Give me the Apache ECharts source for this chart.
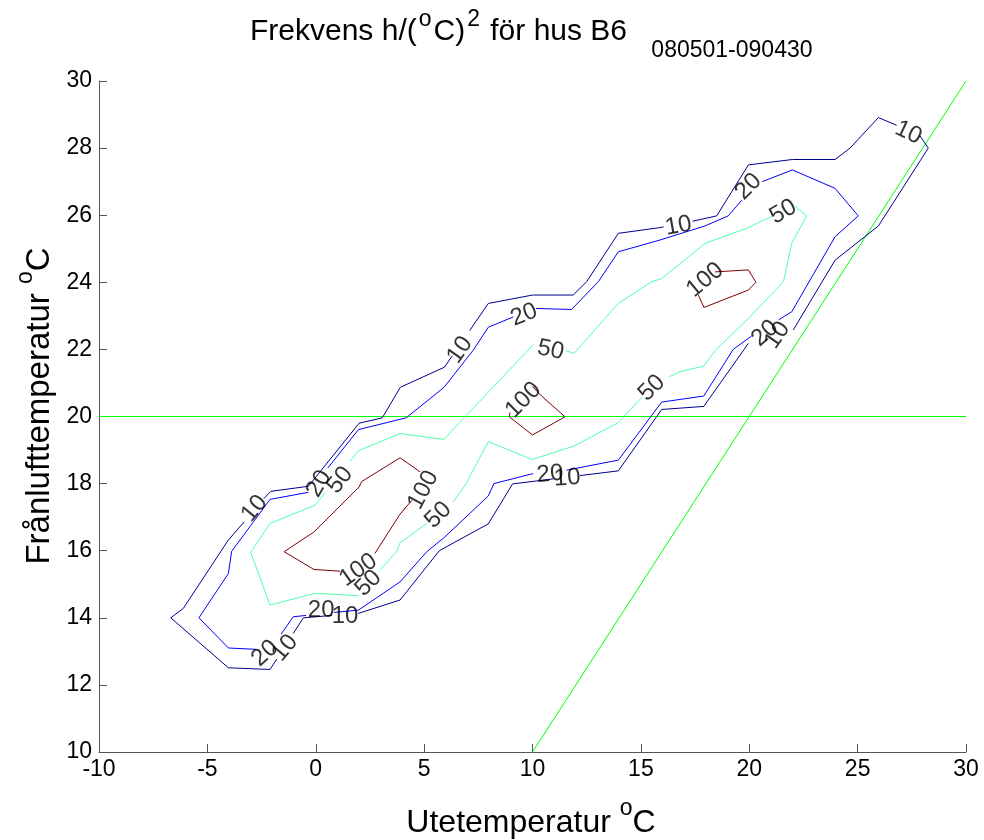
<!DOCTYPE html>
<html><head><meta charset="utf-8">
<script src="https://cdn.jsdelivr.net/npm/echarts@6/dist/echarts.min.js"></script>
<style>html,body{margin:0;padding:0;background:#fff}#c{width:984px;height:840px}</style>
</head><body><div id="c"></div>
<script>
// ---- data ----
const xTickLabels = [-10, -5, 0, 5, 10, 15, 20, 25, 30];
const yTickLabels = [10, 12, 14, 16, 18, 20, 22, 24, 26, 28, 30];
const levels = [10, 20, 50, 100];

// contour polylines (null = break where a level label sits)
const contour10 = [
  [-2.4,17.55],[-2.07,17.77],[-0.34,17.92],[2.0,19.8],[3.07,19.96],[3.9,20.87],[5.94,21.47],[6.3,21.81], null,
  [7.1,22.56],[7.96,23.37],[10.0,23.62],[11.88,23.62],[12.5,24.02],[13.96,25.46],[15.88,25.63],[16.05,25.65], null,
  [17.38,25.82],[18.5,25.98],[19.96,27.5],[21.99,27.66],[23.96,27.66],[24.65,28.0],[25.96,28.91],[26.8,28.68], null,
  [27.88,28.36],[28.26,28.0],[25.96,25.68],[23.96,24.66],[22.03,22.58], null,
  [19.96,22.18],[17.9,20.3],[15.96,20.21],[13.96,18.38],[12.2,18.24], null,
  [10.95,18.14],[9.08,17.99],[7.96,16.8],[5.7,16.0],[3.89,14.53],[1.96,14.13], null,
  [0.75,14.07],[-0.57,14.0],[-1.04,13.53], null,
  [-1.8,12.77],[-2.11,12.46],[-4.03,12.51],[-6.69,14.0],[-6.11,14.28],[-4.03,16.32],[-3.3,16.86]
];
const contour20 = [
  [0.55,18.46],[1.97,19.61],[4.17,19.96],[5.92,20.87],[7.27,21.98],[7.96,22.66],[9.12,22.97], null,
  [10.16,23.22],[11.8,23.19],[13.04,24.02],[13.96,24.91],[15.88,25.26],[17.96,25.68],[19.03,25.98],[19.66,26.45], null,
  [20.6,27.0],[21.99,27.35],[23.96,26.8],[25.03,25.98],[23.96,25.36],[21.96,23.12],[21.35,22.88], null,
  [20.1,22.39],[19.96,22.33],[19.26,22.0],[17.9,20.61],[15.96,20.43],[13.96,18.7],[11.57,18.4], null,
  [10.03,18.3],[8.22,18.0],[7.96,17.63],[5.92,16.39],[5.12,15.97],[3.89,15.07],[1.97,14.23],[0.85,14.16], null,
  [-0.45,14.07],[-1.04,14.03],[-1.6,13.51], null,
  [-2.75,13.06],[-4.03,13.1],[-5.39,14.0],[-4.03,15.32],[-3.88,15.98],[-2.11,17.53],[-0.34,17.74]
];
const contour50 = [
  [2.96,15.42],[3.73,15.97],[3.89,16.24],[5.12,16.81], null,
  [6.35,17.46],[6.93,17.99],[7.96,19.25],[9.99,18.72],[11.92,19.12],[13.96,19.82],[15.04,20.57], null,
  [16.3,21.18],[16.81,21.34],[17.9,21.5],[18.45,21.98],[19.96,22.92],[21.58,24.02],[21.96,25.16],[22.65,25.98],[22.11,26.27], null,
  [21.03,25.96],[19.88,25.61],[17.96,25.16],[15.96,24.11],[15.5,24.02],[13.96,23.37],[11.91,21.88],[11.55,21.96], null,
  [10.05,22.15],[9.99,22.16],[6.81,19.94],[5.92,19.32],[3.89,19.49],[1.97,18.98],[1.6,18.68], null,
  [0.45,17.74],[-0.03,17.36],[-2.11,16.81],[-3.0,15.95],[-2.11,14.38],[-0.03,14.73],[1.96,14.66]
];
const contour100 = [
  [2.73,15.92],[3.89,17.09],[4.43,17.5], null,
  [4.81,18.35],[3.89,18.77],[2.12,18.06],[2.0,17.9],[-0.08,16.56],[-1.46,15.97],[-0.08,15.44],[1.12,15.39], null,
  [10.0,20.89],[10.42,20.61],[11.5,19.99],[10.0,19.45],[8.93,19.99],[8.96,20.12], null,
  [18.42,24.31],[19.96,24.37],[20.31,24.0],[19.96,23.77],[17.91,23.25],[17.65,23.62]
];

// contour label anchors and text angles
const labelPos10 = [[-2.83,17.26],[6.65,21.98],[16.73,25.68],[27.34,28.46],[21.3,22.42],[11.6,18.16],[1.35,14.05],[-1.42,13.1]];
const labelRot10 = [50, 55, 10, -25, 55, 4, 0, 50];
const labelPos20 = [[-2.34,12.94],[0.25,14.23],[0.15,18.0],[9.61,23.03],[19.96,26.85],[20.73,22.48],[10.81,18.28]];
const labelRot20 = [42, 0, 60, 22, 45, 42, 5];
const labelPos50 = [[1.12,18.1],[5.65,17.06],[2.43,15.03],[10.84,21.98],[21.57,26.1],[15.5,20.85]];
const labelRot50 = [52, 45, 45, -12, 30, 45];
const labelPos100 = [[4.96,17.81],[1.96,15.42],[9.58,20.49],[17.96,24.07]];
const labelRot100 = [62, 35, 45, 40];

// reference lines
const refHorizontal = [[-10, 20], [30, 20]];
const refDiagonal = [[10, 10], [30, 30]];

// ---- chart ----
const FONT = '"Liberation Sans", Arial, Helvetica, sans-serif';
const contours = [contour10, contour20, contour50, contour100];
const labelPos = [labelPos10, labelPos20, labelPos50, labelPos100];
const labelRot = [labelRot10, labelRot20, labelRot50, labelRot100];
const colors = ['#00008f', '#0000ff', '#50ffaf', '#800000'];

const series = [];
series.push({type:'line', data: refHorizontal, symbol:'none', lineStyle:{width:1, color:'#00ff00'}, silent:true, z:2});
series.push({type:'line', data: refDiagonal, symbol:'none', lineStyle:{width:1, color:'#00ff00'}, silent:true, z:2});
levels.forEach((lv, i) => {
  series.push({
    type:'line', name:String(lv), symbol:'none', connectNulls:false, silent:true, z:3,
    data: contours[i].map(p => p ? p : ['-', '-']),
    lineStyle:{width:1, color:colors[i]}
  });
});
levels.forEach((lv, i) => {
  series.push({
    type:'scatter', symbolSize:0, silent:true, z:5,
    data: labelPos[i].map((p, k) => ({value:p, label:{rotate: labelRot[i][k]}})),
    label:{show:true, position:'inside', formatter:String(lv), color:'#000', fontSize:24, fontFamily:FONT}
  });
});

const chart = echarts.init(document.getElementById('c'), null, {renderer:'canvas'});
chart.setOption({
  animation:false,
  backgroundColor:'#fff',
  grid:{left:99, right:18, top:81, bottom:88, containLabel:false},
  xAxis:{
    type:'value', min:xTickLabels[0], max:xTickLabels[xTickLabels.length-1], interval:5,
    axisLine:{onZero:false, lineStyle:{color:'#555', width:1}},
    axisTick:{inside:true, length:8, lineStyle:{color:'#555'}},
    splitLine:{show:false},
    axisLabel:{color:'#000', fontSize:23, fontFamily:FONT, margin:6}
  },
  yAxis:{
    type:'value', min:yTickLabels[0], max:yTickLabels[yTickLabels.length-1], interval:2,
    axisLine:{show:true, onZero:false, lineStyle:{color:'#555', width:1}},
    axisTick:{show:true, inside:true, length:8, lineStyle:{color:'#555'}},
    splitLine:{show:false},
    axisLabel:{color:'#000', fontSize:23, fontFamily:FONT, margin:7}
  },
  graphic:[
    {type:'text', x:250, y:2, silent:true, style:{
      text:'{a|Frekvens h/(}{s|o}{a|C)}{s|2}{a| för hus B6 }{b|080501-090430}',
      align:'left', verticalAlign:'top',
      rich:{
        a:{fontSize:30, fontFamily:FONT, fill:'#000', lineHeight:60, verticalAlign:'middle'},
        s:{fontSize:23, fontFamily:FONT, fill:'#000', lineHeight:34, verticalAlign:'top', padding:[6,2,0,2]},
        b:{fontSize:23, fontFamily:FONT, fill:'#000', lineHeight:18, verticalAlign:'bottom', padding:[0,0,0,16]}
      }
    }},
    {type:'text', x:531, y:797, silent:true, style:{
      text:'{a|Utetemperatur }{s|o}{a|C}', align:'center', verticalAlign:'top',
      rich:{
        a:{fontSize:32, fontFamily:FONT, fill:'#000', lineHeight:42, verticalAlign:'bottom'},
        s:{fontSize:23, fontFamily:FONT, fill:'#000', lineHeight:24, verticalAlign:'top'}
      }
    }},
    {type:'text', x:14, y:406, rotation:Math.PI/2, silent:true, style:{
      text:'{a|Frånlufttemperatur }{s|o}{a|C}', align:'center', verticalAlign:'top',
      rich:{
        a:{fontSize:33, fontFamily:FONT, fill:'#000', lineHeight:42, verticalAlign:'bottom'},
        s:{fontSize:23, fontFamily:FONT, fill:'#000', lineHeight:24, verticalAlign:'top'}
      }
    }}
  ],
  series: series
});
</script>
</body></html>
